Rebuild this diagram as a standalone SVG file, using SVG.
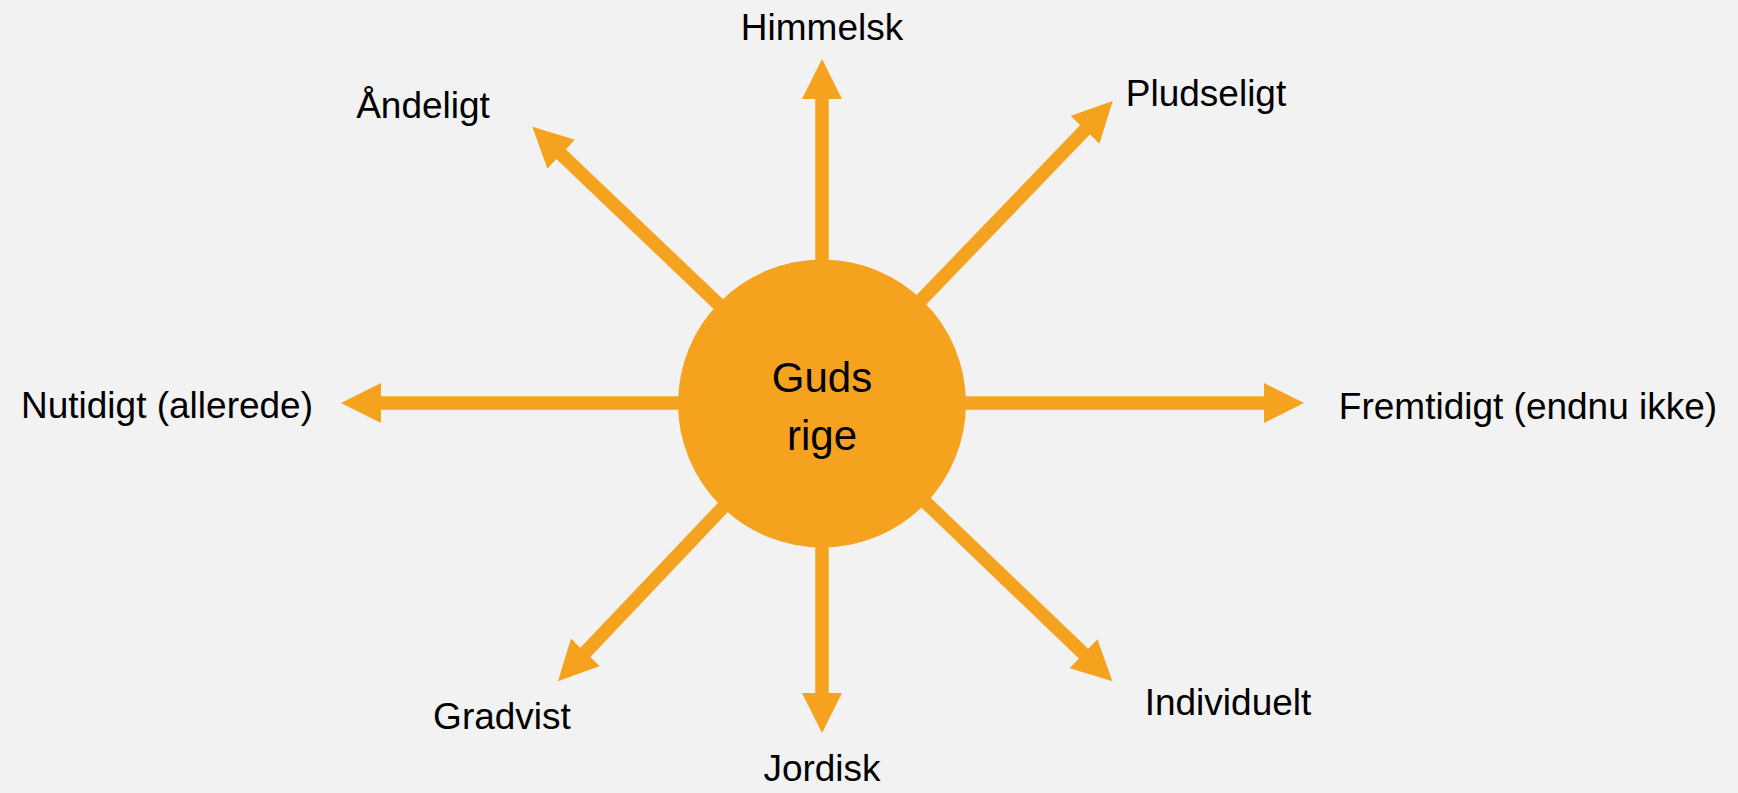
<svg xmlns="http://www.w3.org/2000/svg" width="1738" height="793" viewBox="0 0 1738 793">
  <defs>
    <style>
      .conn { stroke: #F5A31F; stroke-width: 13.5; fill: none; marker-end: url(#head); }
      .lbl { font-family: "Liberation Sans", Arial, sans-serif; font-size: 37px; fill: #000; text-anchor: middle; }
      .ctr { font-family: "Liberation Sans", Arial, sans-serif; font-size: 42px; fill: #000; text-anchor: middle; }
    </style>
    <marker id="head" markerUnits="userSpaceOnUse" markerWidth="40" markerHeight="40" viewBox="0 0 40 40" refX="1" refY="20" orient="auto">
      <path d="M0,0 L40,20 L0,40 Z" fill="#F5A31F"/>
    </marker>
  </defs>
  <rect x="0" y="0" width="1738" height="793" fill="#F2F2F2"/>
  <g id="connectors">
    <line class="conn" x1="822" y1="403" x2="822" y2="98"/>
    <line class="conn" x1="822" y1="403" x2="822" y2="694"/>
    <line class="conn" x1="822" y1="403" x2="380" y2="403"/>
    <line class="conn" x1="822" y1="403" x2="1265" y2="403"/>
    <line class="conn" x1="822" y1="403" x2="560.5" y2="153.6"/>
    <line class="conn" x1="822" y1="403" x2="1085.7" y2="129.1"/>
    <line class="conn" x1="822" y1="403" x2="584.8" y2="653"/>
    <line class="conn" x1="822" y1="403" x2="1084.3" y2="654.3"/>
  </g>
  <g id="node-center">
    <circle cx="822" cy="403.5" r="144" fill="#F5A31F"/>
    <text class="ctr" x="822" y="392">Guds</text>
    <text class="ctr" x="822" y="450">rige</text>
  </g>
  <g id="node-himmelsk"><text class="lbl" x="822" y="40">Himmelsk</text></g>
  <g id="node-jordisk"><text class="lbl" x="822" y="781">Jordisk</text></g>
  <g id="node-nutidigt"><text class="lbl" x="167" y="418">Nutidigt (allerede)</text></g>
  <g id="node-fremtidigt"><text class="lbl" x="1528" y="419">Fremtidigt (endnu ikke)</text></g>
  <g id="node-andeligt"><text class="lbl" x="423" y="118">Åndeligt</text></g>
  <g id="node-pludseligt"><text class="lbl" x="1206" y="106">Pludseligt</text></g>
  <g id="node-gradvist"><text class="lbl" x="502" y="729">Gradvist</text></g>
  <g id="node-individuelt"><text class="lbl" x="1228" y="715">Individuelt</text></g>
</svg>
